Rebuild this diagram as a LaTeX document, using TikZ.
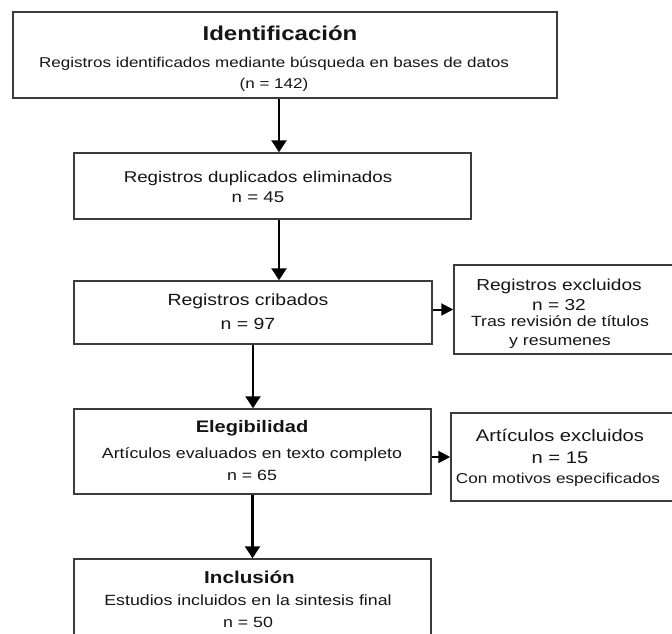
\documentclass[tikz,border=0pt]{standalone}
\usepackage{fontspec}
\setmainfont[FakeStretch=1.2]{Liberation Sans}
\usetikzlibrary{
    arrows.meta,
    calc,
    positioning
}
\definecolor{boxgray}{HTML}{3C3C3C}
\definecolor{inkgray}{HTML}{151515}
\newcommand{\setfs}[2]{\fontsize{#1}{#2}\selectfont}

\begin{document}
\begin{tikzpicture}[x=1pt, y=-1pt,
    stage/.style={draw=boxgray, line width=1.5pt, inner sep=0pt},
    txt/.style={align=center, text=inkgray, inner sep=0pt},
    arr/.style={-{Triangle[length=12pt, width=15pt]}, line width=2.6pt},
    sidearr/.style={-{Triangle[length=12pt, width=12pt]}, line width=2pt}]
                        \useasboundingbox (0,0) rectangle (672,634);
                        \clip (0,0) rectangle (672,634);

                        % boxes
                        \node[stage, minimum width=544pt, minimum height=86pt] (ident) at (285, 55) {};
                        \node[stage, minimum width=397pt, minimum height=66pt] (dup) at (272.5, 186) {};
                        \node[stage, minimum width=358pt, minimum height=63pt] (crib) at (253, 312.5) {};
                        \node[stage, minimum width=236pt, minimum height=89pt] (excl1) at (572, 309.5) {};
                        \node[stage, minimum width=357pt, minimum height=85pt] (elig) at (252.5, 451.5) {};
                        \node[stage, minimum width=239pt, minimum height=88pt] (excl2) at (570.5, 457) {};
                        \node[stage, minimum width=357pt, minimum height=86pt] (incl) at (252.5, 602) {};

                        % texts
                        \node[txt, font=\setfs{20}{24}\bfseries] (ident-title) at (280, 33) {Identificación};
                        \node[txt, font=\setfs{14.2}{21}] (ident-body) at (274, 74.5) {Registros identificados mediante búsqueda en bases de datos\\(n = 142)};
                        \node[txt, font=\setfs{15.6}{20}] (dup-body) at (258, 187) {Registros duplicados eliminados\\n = 45};
                        \node[txt, font=\setfs{16.2}{24}] (crib-body) at (248, 312) {Registros cribados\\n = 97};
                        \node[txt, font=\setfs{15.9}{20}] (excl1-title) at (559, 295) {Registros excluidos\\n = 32};
                        \node[txt, font=\setfs{14.8}{19}] (excl1-note) at (560, 332.5) {Tras revisión de títulos\\y resumenes};
                        \node[txt, font=\setfs{16.7}{20}\bfseries] (elig-title) at (252, 428) {Elegibilidad};
                        \node[txt, font=\setfs{14.8}{22}] (elig-body) at (252, 464) {Artículos evaluados en texto completo\\n = 65};
                        \node[txt, font=\setfs{16.8}{22}] (excl2-title) at (560, 446) {Artículos excluidos\\n = 15};
                        \node[txt, font=\setfs{14.3}{18}] (excl2-note) at (558, 480) {Con motivos especificados};
                        \node[txt, font=\setfs{17.2}{20}\bfseries] (incl-title) at (249.5, 577) {Inclusión};
                        \node[txt, font=\setfs{14.8}{22}] (incl-body) at (248, 611) {Estudios incluidos en la sintesis final\\n = 50};

                        % arrows
                        \draw[arr] ([xshift=-6pt]ident.south) -- ([xshift=-6pt]ident.south |- dup.north);
                        \draw[arr] ([xshift=6.5pt]dup.south) -- ([xshift=6.5pt]dup.south |- crib.north);
                        \draw[arr] (crib.south) -- (crib.south |- elig.north);
                        \draw[arr] (elig.south) -- (elig.south |- incl.north);
                        \draw[sidearr] (crib.east |- excl1.west) -- (excl1.west);
                        \draw[sidearr] (elig.east |- excl2.west) -- (excl2.west);
\end{tikzpicture}
\end{document}
